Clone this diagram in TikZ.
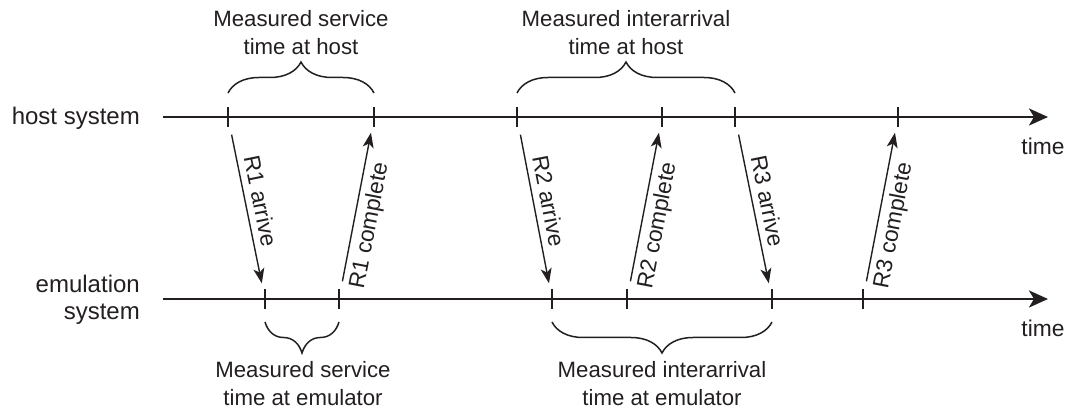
\documentclass[tikz,border=0pt]{standalone}
\usepackage{fontspec}
\setmainfont{Liberation Sans}
\usetikzlibrary{arrows.meta,decorations.pathreplacing}
\definecolor{ink}{HTML}{231F20}
\begin{document}
\begin{tikzpicture}[x=1pt,y=1pt,
  every node/.style={font=\fontsize{22.2}{28}\selectfont, text=ink},
  axis/.style={line width=2.6pt, draw=ink, -{Stealth[length=19pt,width=17pt,inset=5pt]}},
  tickmark/.style={line width=1.4pt, draw=ink},
  msg/.style={line width=1.4pt, draw=ink, -{Stealth[length=15pt,width=11pt,inset=4pt]}, shorten <=18pt, shorten >=16pt},
  msglbl/.style={font=\fontsize{22.7}{28}\selectfont, sloped},
  side/.style={font=\fontsize{24}{27}\selectfont, inner sep=0pt},
  timelbl/.style={font=\fontsize{22.8}{28}\selectfont, anchor=base},
  brc/.style={line width=1.5pt, draw=ink, decorate, decoration={brace, amplitude=31pt}},
  lbl/.style={align=center}]
\useasboundingbox (0,0) rectangle (1072,412);

% axes
\coordinate (hs) at (163,295);
\coordinate (he) at (1048,295);
\coordinate (es) at (163,113);
\coordinate (ee) at (1048,113);
\draw[axis] (hs) -- (he);
\draw[axis] (es) -- (ee);

\node[side, anchor=base east] (hostlbl) at (140,287) {host system};
\node[side, anchor=east, align=right] (emulbl) at (140,111.75) {emulation\\system};
\node[timelbl] (htime) at (1043,257) {time};
\node[timelbl] (etime) at (1043,75) {time};

% tick points
\foreach \n/\x in {1/228,2/374,3/517,4/662,5/735,6/898}
  \coordinate (h\n) at (\x,295);
\foreach \n/\x in {1/265,2/339,3/552,4/627,5/772,6/863}
  \coordinate (e\n) at (\x,113);
\foreach \n in {1,...,6} {
  \draw[tickmark] ([yshift=-10pt]h\n) -- ([yshift=10pt]h\n);
  \draw[tickmark] ([yshift=-10pt]e\n) -- ([yshift=10pt]e\n);
}

% messages
\draw[msg] (h1) -- node[msglbl, pos=0.478, above=3pt] (r1a) {R1 arrive} (e1);
\draw[msg] (e2) -- node[msglbl, pos=0.42, below=2pt] (r1c) {R1 complete} (h2);
\draw[msg] (h3) -- node[msglbl, pos=0.478, above=3pt] (r2a) {R2 arrive} (e3);
\draw[msg] (e4) -- node[msglbl, pos=0.42, below=2pt] (r2c) {R2 complete} (h4);
\draw[msg] (h5) -- node[msglbl, pos=0.478, above=3pt] (r3a) {R3 arrive} (e5);
\draw[msg] (e6) -- node[msglbl, pos=0.42, below=2pt] (r3c) {R3 complete} (h6);

% braces
\draw[brc] ([yshift=24pt]h1) -- ([yshift=24pt]h2);
\draw[brc] ([yshift=24pt]h3) -- ([yshift=24pt]h5);
\draw[brc] ([yshift=-23pt]e2) -- ([yshift=-23pt]e1);
\draw[brc] ([yshift=-23pt]e5) -- ([yshift=-23pt]e3);

\node[lbl] (bsh) at (301,379) {Measured service\\time at host};
\node[lbl] (bih) at (626,379) {Measured interarrival\\time at host};
\node[lbl] (bse) at (303,28) {Measured service\\time at emulator};
\node[lbl] (bie) at (662,28) {Measured interarrival\\time at emulator};
\end{tikzpicture}
\end{document}
